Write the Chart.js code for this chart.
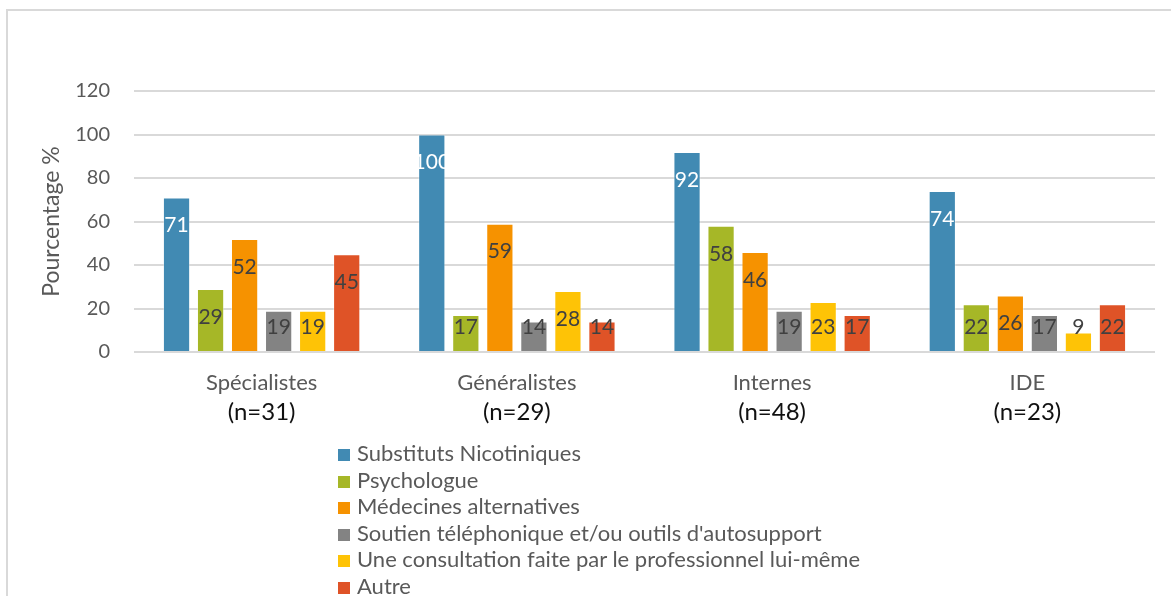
<!DOCTYPE html>
<html>
<head>
    <title>Pourcentage par catégorie</title>
    <script src="https://cdn.jsdelivr.net/npm/chart.js@4"></script>
    <style>
        body { margin: 0; background: #fff; font-family: Lato, sans-serif; overflow: hidden; }
        #wrap { position: relative; width: 1171px; height: 596px; overflow: hidden; }
        #frame { position: absolute; left: 6px; top: 9px; width: 1200px; height: 620px; border: 2px solid #d9d9d9; }
        #chart { position: absolute; left: 0; top: 0; }
        #legend { position: absolute; left: 338px; top: 440px; font-size: 22px; color: #595959; }
        #legend div { height: 26.6px; line-height: 26.6px; white-space: nowrap; }
        #legend span.box { display: inline-block; width: 12px; height: 12px; margin-right: 7px; vertical-align: 0px; }
    </style>
</head>
<body>
<div id="wrap">
    <div id="frame"></div>
    <canvas id="chart" width="1171" height="596"></canvas>
    <div id="legend"></div>
</div>
<script>
    const categories = ['Spécialistes', 'Généralistes', 'Internes', 'IDE'];
    const sampleSizes = ['(n=31)', '(n=29)', '(n=48)', '(n=23)'];
    const seriesNames = [
        'Substituts Nicotiniques',
        'Psychologue',
        'Médecines alternatives',
        "Soutien téléphonique et/ou outils d'autosupport",
        'Une consultation faite par le professionnel lui-même',
        'Autre'
    ];
    const substituts = [71, 100, 92, 74];
    const psychologue = [29, 17, 58, 22];
    const medecines = [52, 59, 46, 26];
    const soutien = [19, 14, 19, 17];
    const consultation = [19, 28, 23, 9];
    const autre = [45, 14, 17, 22];
    const yTicks = [0, 20, 40, 60, 80, 100, 120];

    const colors = ['#418AB3', '#A6B727', '#F69200', '#838383', '#FEC306', '#DF5327'];
    const allSeries = [substituts, psychologue, medecines, soutien, consultation, autre];

    // values drawn inside the bars, near the top
    const barLabels = {
        id: 'barLabels',
        afterDatasetsDraw(chart) {
            const ctx = chart.ctx;
            const bottom = chart.chartArea.bottom;
            ctx.save();
            ctx.font = '21px Lato';
            ctx.textAlign = 'center';
            ctx.textBaseline = 'middle';
            chart.data.datasets.forEach((ds, i) => {
                const meta = chart.getDatasetMeta(i);
                ctx.fillStyle = i === 0 ? '#ffffff' : '#404040';
                meta.data.forEach((bar, j) => {
                    const y = Math.min(bar.y + 28, bottom - 25);
                    ctx.fillText(String(ds.data[j]), bar.x, y);
                });
            });
            ctx.restore();
        }
    };

    // two-line category labels, second line darker
    const catLabels = {
        id: 'catLabels',
        afterDraw(chart) {
            const ctx = chart.ctx;
            const xs = chart.scales.x;
            const bottom = chart.chartArea.bottom;
            ctx.save();
            ctx.textAlign = 'center';
            ctx.textBaseline = 'middle';
            categories.forEach((c, i) => {
                const x = xs.getPixelForValue(i);
                ctx.font = '22px Lato';
                ctx.fillStyle = '#595959';
                ctx.fillText(c, x, bottom + 31);
                ctx.font = '24px Lato';
                ctx.fillStyle = '#111111';
                ctx.fillText(sampleSizes[i], x, bottom + 60);
            });
            ctx.restore();
        }
    };

    const chart = new Chart(document.getElementById('chart').getContext('2d'), {
        type: 'bar',
        data: {
            labels: categories,
            datasets: seriesNames.map((name, i) => ({
                label: name,
                data: allSeries[i],
                backgroundColor: colors[i],
                borderColor: 'rgba(255,255,255,0.35)',
                borderWidth: 1,
                categoryPercentage: 0.8,
                barPercentage: 0.8
            }))
        },
        options: {
            responsive: false,
            animation: false,
            layout: { padding: { top: 91, right: 16, bottom: 0, left: 0 } },
            scales: {
                x: {
                    ticks: { display: false },
                    grid: { display: false },
                    border: { display: false },
                    afterFit(scale) { scale.height = 244; }
                },
                y: {
                    min: 0,
                    max: 120,
                    afterBuildTicks(scale) { scale.ticks = yTicks.map(v => ({ value: v })); },
                    ticks: { color: '#595959', font: { family: 'Lato', size: 20 }, padding: 24 },
                    grid: { color: '#d9d9d9', lineWidth: 2, drawTicks: false },
                    border: { display: false },
                    title: {
                        display: true,
                        text: 'Pourcentage %',
                        color: '#595959',
                        font: { family: 'Lato', size: 23 },
                        padding: { top: 38, bottom: 0 }
                    },
                    afterFit(scale) { scale.width = 134; }
                }
            },
            plugins: {
                legend: { display: false },
                tooltip: { enabled: false }
            }
        },
        plugins: [barLabels, catLabels]
    });

    const legendDiv = document.getElementById('legend');
    chart.data.datasets.forEach(ds => {
        const row = document.createElement('div');
        row.innerHTML = `<span class="box" style="background:${ds.backgroundColor}"></span>${ds.label}`;
        legendDiv.appendChild(row);
    });
</script>
</body>
</html>
